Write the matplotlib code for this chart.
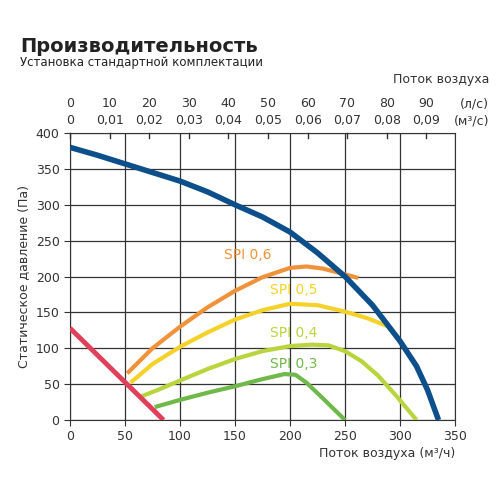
import matplotlib
matplotlib.use("Agg")
import matplotlib.pyplot as plt

fan_x = [0, 25, 50, 75, 100, 125, 150, 175, 200, 225, 250, 275, 300, 315, 325, 335]
fan_y = [380, 369, 357, 345, 333, 318, 300, 283, 262, 233, 200, 160, 110, 75, 42, 0]
sys_x = [0, 85]
sys_y = [128, 0]
spi06_x = [52, 75, 100, 125, 150, 175, 200, 215, 230, 245, 262]
spi06_y = [65, 100, 130, 157, 180, 199, 212, 214, 211, 205, 198]
spi05_x = [55, 75, 100, 125, 150, 175, 200, 225, 250, 270, 290]
spi05_y = [52, 78, 102, 122, 140, 153, 162, 160, 151, 142, 130]
spi04_x = [65, 80, 100, 125, 150, 175, 200, 220, 235, 250, 265, 280, 297, 315]
spi04_y = [33, 42, 55, 71, 85, 96, 103, 105, 104, 96, 82, 62, 33, 0]
spi03_x = [77, 100, 125, 150, 175, 195, 205, 215, 230, 250]
spi03_y = [18, 28, 38, 47, 57, 64, 63, 52, 30, 0]
top_ls = [0, 10, 20, 30, 40, 50, 60, 70, 80, 90]
top_m3s = ["0", "0,01", "0,02", "0,03", "0,04", "0,05", "0,06", "0,07", "0,08", "0,09"]

fig = plt.figure(figsize=(5, 5), dpi=100)
ax = fig.add_axes([0.14, 0.16, 0.77, 0.574])
ax.set_xlim(0, 350)
ax.set_ylim(0, 400)
ax.set_xticks(range(0, 351, 50))
ax.set_yticks(range(0, 401, 50))
ax.grid(True, color="#333333", lw=0.9)
for s in ax.spines.values():
    s.set_color("#333333")
ax.tick_params(labelsize=9, colors="#333333", length=4)

ax.plot(fan_x, fan_y, color="#0d4f8b", lw=4, solid_capstyle="butt", zorder=5)
ax.plot(sys_x, sys_y, color="#e0405a", lw=3.5, solid_capstyle="butt", zorder=6)
cols = ["#f0923a", "#f5d22a", "#b9d43c", "#6fb84a"]
for (xs, ys, c, lab, lx, ly) in [(spi06_x, spi06_y, cols[0], "SPI 0,6", 140, 230),
                                 (spi05_x, spi05_y, cols[1], "SPI 0,5", 182, 181),
                                 (spi04_x, spi04_y, cols[2], "SPI 0,4", 182, 121),
                                 (spi03_x, spi03_y, cols[3], "SPI 0,3", 182, 78)]:
    ax.plot(xs, ys, color=c, lw=3, solid_capstyle="butt", solid_joinstyle="round", zorder=4)
    ax.text(lx, ly, lab, color=c, fontsize=10, ha="left", va="center")

ax.set_ylabel("Статическое давление (Па)", fontsize=9, color="#333333")
fig.text(0.91, 0.085, "Поток воздуха (м³/ч)", ha="right", fontsize=9, color="#333333")

k = 3.6
for v, s in zip(top_ls, top_m3s):
    ax.text(v * k, 408, s, ha="center", va="bottom", fontsize=9, color="#333333")
    ax.text(v * k, 432, str(v), ha="center", va="bottom", fontsize=9, color="#333333")
    ax.plot([v * k, v * k], [400, 393], color="#333333", lw=1, clip_on=False)
ax.text(381, 432, "(л/с)", ha="right", va="bottom", fontsize=9, color="#333333")
ax.text(381, 408, "(м³/с)", ha="right", va="bottom", fontsize=9, color="#333333")
ax.text(381, 466, "Поток воздуха", ha="right", va="bottom", fontsize=9, color="#333333")

fig.text(0.04, 0.895, "Производительность", fontsize=14, fontweight="bold", color="#222222")
fig.text(0.04, 0.868, "Установка стандартной комплектации", fontsize=8.5, color="#222222")
fig.savefig("out.png", dpi=100)
